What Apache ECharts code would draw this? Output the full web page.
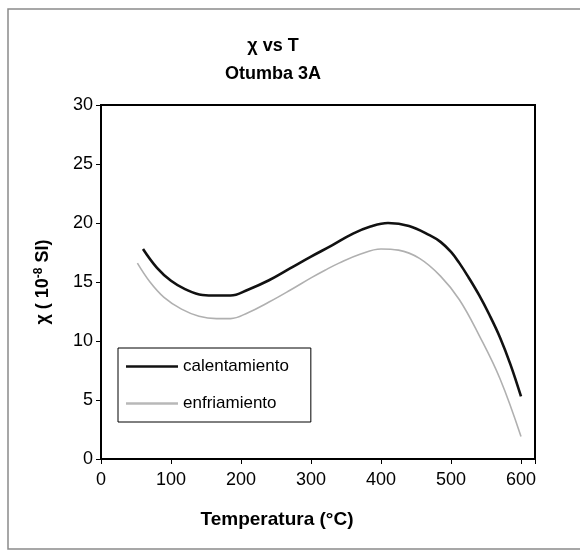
<!DOCTYPE html>
<html>
<head>
<meta charset="utf-8">
<script src="https://cdn.jsdelivr.net/npm/echarts@6/dist/echarts.min.js"></script>
<style>
html,body{margin:0;padding:0;background:#fff;}
#chart{width:580px;height:555px;}
</style>
</head>
<body>
<div id="chart"></div>
<script>
// Data
var heatT = [60, 80, 100, 120, 145, 165, 185, 210, 240, 270, 300, 330, 360, 385, 410, 440, 470, 485, 500, 512, 525, 540, 555, 570, 585, 600];
var heatChi = [17.8, 16.2, 15.1, 14.4, 13.9, 13.85, 13.85, 14.35, 15.15, 16.15, 17.15, 18.1, 19.1, 19.7, 20.0, 19.75, 18.95, 18.4, 17.55, 16.6, 15.4, 13.9, 12.2, 10.3, 8.0, 5.3];
var coolT = [52, 70, 90, 115, 140, 165, 185, 210, 240, 270, 300, 320, 340, 370, 400, 425, 455, 485, 512, 540, 570, 600];
var coolChi = [16.6, 15.0, 13.7, 12.7, 12.1, 11.9, 11.9, 12.4, 13.3, 14.3, 15.35, 16.0, 16.6, 17.35, 17.8, 17.7, 17.0, 15.5, 13.5, 10.5, 6.8, 1.9];
var seriesNames = ['calentamiento', 'enfriamiento'];
var xTicks = [0, 100, 200, 300, 400, 500, 600];
var yTicks = [0, 5, 10, 15, 20, 25, 30];

function zip(a, b) { return a.map(function (v, i) { return [v, b[i]]; }); }

var font = 'Arial, "Liberation Sans", sans-serif';
var chart = echarts.init(document.getElementById('chart'), null, { renderer: 'canvas' });
chart.setOption({
  backgroundColor: '#fff',
  animation: false,
  title: [
    { text: 'χ vs T', left: 268, top: 32, textAlign: 'center',
      textStyle: { fontFamily: font, fontSize: 18, fontWeight: 'bold', color: '#000' } },
    { text: 'Otumba 3A', left: 268, top: 60, textAlign: 'center',
      textStyle: { fontFamily: font, fontSize: 18, fontWeight: 'bold', color: '#000' } },
    { text: 'Temperatura (°C)', left: 272, top: 505, textAlign: 'center',
      textStyle: { fontFamily: font, fontSize: 19, fontWeight: 'bold', color: '#000' } }
  ],
  graphic: [
    { type: 'rect', shape: { x: 8, y: 9, width: 600, height: 540 }, silent: true,
      style: { fill: 'none', stroke: '#8a8a8a', lineWidth: 1.5 } }
  ],
  grid: { left: 101, top: 105, right: 45, bottom: 96, show: true, borderColor: '#000', borderWidth: 2, backgroundColor: '#fff' },
  legend: {
    orient: 'vertical', left: 118, top: 348,
    data: [
      { name: seriesNames[0], icon: 'rect', itemStyle: { color: '#111' } },
      { name: seriesNames[1], icon: 'rect', itemStyle: { color: '#b8b8b8' } }
    ],
    itemWidth: 52, itemHeight: 2.5, itemGap: 20,
    padding: [10, 22, 10, 8],
    borderColor: '#000', borderWidth: 1,
    textStyle: { fontFamily: font, fontSize: 17, color: '#000', lineHeight: 17 }
  },
  xAxis: {
    type: 'value', min: 0, max: 620, interval: 100,
    axisLine: { lineStyle: { color: '#000', width: 2 } },
    axisTick: { show: true, length: 5, lineStyle: { color: '#000', width: 1 } },
    splitLine: { show: false },
    axisLabel: { fontFamily: font, fontSize: 18, color: '#000', margin: 12,
      formatter: function (v) { return xTicks.indexOf(v) >= 0 ? String(v) : ''; } }
  },
  yAxis: {
    type: 'value', min: 0, max: 30, interval: 5,
    name: '{a|χ ( 10}{s|-8}{a| SI)}',
    nameLocation: 'middle', nameGap: 48, nameRotate: 90,
    nameTextStyle: { rich: {
      a: { fontFamily: font, fontSize: 18, fontWeight: 'bold', color: '#000' },
      s: { fontFamily: font, fontSize: 12, fontWeight: 'bold', color: '#000', verticalAlign: 'top', padding: [0, 0, 8, 0] }
    } },
    axisLine: { lineStyle: { color: '#000', width: 2 } },
    axisTick: { show: true, length: 5, lineStyle: { color: '#000', width: 1 } },
    splitLine: { show: false },
    axisLabel: { fontFamily: font, fontSize: 18, color: '#000', margin: 8,
      formatter: function (v) { return yTicks.indexOf(v) >= 0 ? String(v) : ''; } }
  },
  series: [
    { name: seriesNames[0], type: 'line', data: zip(heatT, heatChi), smooth: 0.4, symbol: 'none',
      lineStyle: { color: '#111', width: 2.6 }, itemStyle: { color: '#111' } },
    { name: seriesNames[1], type: 'line', data: zip(coolT, coolChi), smooth: 0.4, symbol: 'none',
      lineStyle: { color: '#b0b0b0', width: 1.6 }, itemStyle: { color: '#b0b0b0' } }
  ]
});
</script>
</body>
</html>
